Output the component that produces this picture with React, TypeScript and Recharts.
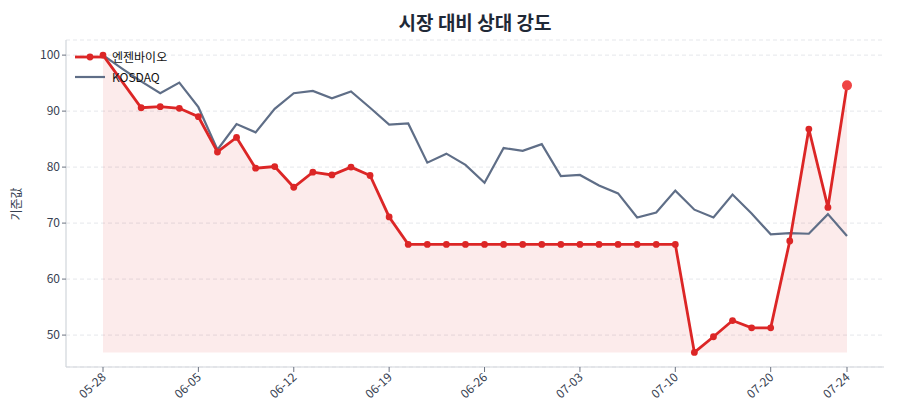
import {
  CartesianGrid,
  ComposedChart,
  Area,
  Line,
  XAxis,
  YAxis,
} from 'recharts';

const dates = [
  '05-28', '05-29', '05-30', '06-02', '06-04', '06-05', '06-08', '06-09', '06-10', '06-11',
  '06-12', '06-13', '06-16', '06-17', '06-18', '06-19', '06-20', '06-23', '06-24', '06-25',
  '06-26', '06-27', '06-30', '07-01', '07-02', '07-03', '07-04', '07-07', '07-08', '07-09',
  '07-10', '07-11', '07-14', '07-15', '07-17', '07-20', '07-21', '07-22', '07-23', '07-24',
];

// 엔젠바이오 (index 1 shows no marker in the reference)
const stock = [
  100, null, 90.6, 90.8, 90.5, 89.0, 82.7, 85.3, 79.8, 80.1,
  76.4, 79.1, 78.6, 80.0, 78.5, 71.1, 66.2, 66.2, 66.2, 66.2,
  66.2, 66.2, 66.2, 66.2, 66.2, 66.2, 66.2, 66.2, 66.2, 66.2,
  66.2, 46.9, 49.7, 52.6, 51.3, 51.3, 66.8, 86.8, 72.8, 94.6,
];

const kosdaq = [
  100, 97.6, 95.3, 93.2, 95.1, 90.7, 83.1, 87.7, 86.2, 90.4,
  93.2, 93.6, 92.3, 93.5, 90.6, 87.6, 87.8, 80.8, 82.4, 80.4,
  77.2, 83.4, 82.9, 84.1, 78.4, 78.6, 76.7, 75.3, 71.0, 71.9,
  75.8, 72.4, 71.0, 75.1, 71.7, 68.0, 68.2, 68.1, 71.6, 67.7,
];

const xTicks = ['05-28', '06-05', '06-12', '06-19', '06-26', '07-03', '07-10', '07-20', '07-24'];
const yTicks = [50, 60, 70, 80, 90, 100];

const RED = '#dc2626';
const SLATE = '#5f6e87';
const FONT = "'Noto Sans CJK KR', 'Noto Sans', sans-serif";

const data = dates.map((d, i) => ({ date: d, stock: stock[i], kosdaq: kosdaq[i] }));
const fillBase = Math.min(...stock.filter((v): v is number => v !== null));
const lastIdx = dates.length - 1;

const StockDot = (props: any) => {
  const { cx, cy, index, value } = props;
  if (value == null || cx == null || cy == null) return null;
  if (index === lastIdx) {
    return <circle key={`d${index}`} cx={cx} cy={cy} r={5} fill='#ef4444' />;
  }
  return <circle key={`d${index}`} cx={cx} cy={cy} r={3.4} fill={RED} />;
};

const LegendBox = () => (
  <div
    style={{
      position: 'absolute',
      left: 75,
      top: 47,
      fontFamily: FONT,
      fontSize: 12,
      color: '#111',
      lineHeight: '20px',
    }}
  >
    <div style={{ display: 'flex', alignItems: 'center' }}>
      <svg width={37} height={12}>
        <line x1={0} y1={6} x2={30} y2={6} stroke={RED} strokeWidth={2.8} />
        <circle cx={15} cy={6} r={3.4} fill={RED} />
      </svg>
      <span>엔젠바이오</span>
    </div>
    <div style={{ display: 'flex', alignItems: 'center' }}>
      <svg width={37} height={12}>
        <line x1={0} y1={6} x2={30} y2={6} stroke={SLATE} strokeWidth={2.2} />
      </svg>
      <span>KOSDAQ</span>
    </div>
  </div>
);

const YLabel = () => (
  <text
    x={18}
    y={204}
    transform='rotate(-90 18 204)'
    textAnchor='middle'
    dominantBaseline='middle'
    fontFamily={FONT}
    fontSize={12}
    fill='#374151'
  >
    기준값
  </text>
);

const App = () => (
  <div style={{ position: 'absolute', left: 0, top: 0, width: 900, height: 420, background: '#fff' }}>
    <div
      style={{
        position: 'absolute',
        left: 66,
        width: 818,
        top: 8,
        textAlign: 'center',
        fontFamily: FONT,
        fontWeight: 700,
        fontSize: 19,
        color: '#1f2937',
      }}
    >
      시장 대비 상대 강도
    </div>
    <ComposedChart width={900} height={420} data={data} margin={{ top: 40, right: 16, bottom: 0, left: 0 }}>
      <CartesianGrid stroke='#e5e7eb' strokeDasharray='4 3' vertical={false} />
      <XAxis
        dataKey='date'
        ticks={xTicks}
        interval={0}
        padding={{ left: 37, right: 37 }}
        height={53}
        angle={-42}
        textAnchor='end'
        tick={{ fill: '#374151', fontSize: 12, fontFamily: FONT, dy: -2, dx: -2 }}
        tickSize={5}
        tickLine={{ stroke: '#6b7280' }}
        axisLine={{ stroke: '#d1d5db', strokeWidth: 1.2 }}
      />
      <YAxis
        domain={[44.3, 102.7]}
        ticks={yTicks}
        allowDataOverflow
        width={66}
        tick={{ fill: '#374151', fontSize: 12, fontFamily: FONT }}
        tickSize={4}
        tickLine={{ stroke: '#6b7280' }}
        axisLine={{ stroke: '#d1d5db', strokeWidth: 1.2 }}
      />
      <Area
        dataKey='stock'
        baseValue={fillBase}
        connectNulls
        stroke='none'
        fill={RED}
        fillOpacity={0.09}
        isAnimationActive={false}
        activeDot={false}
      />
      <Line
        dataKey='kosdaq'
        stroke={SLATE}
        strokeWidth={2.2}
        dot={false}
        isAnimationActive={false}
      />
      <Line
        dataKey='stock'
        stroke={RED}
        strokeWidth={2.8}
        connectNulls
        dot={StockDot}
        isAnimationActive={false}
      />
      <YLabel />
    </ComposedChart>
    <LegendBox />
  </div>
);

export default App;
